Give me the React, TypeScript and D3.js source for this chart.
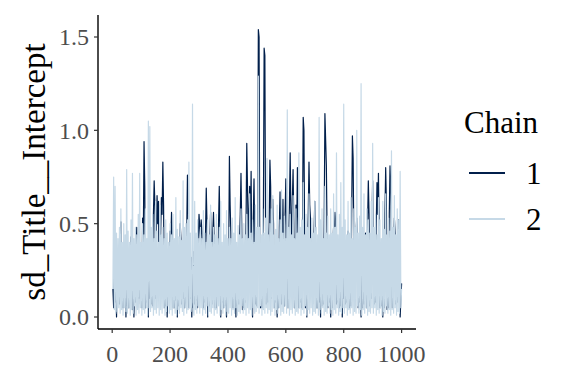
import React from "react";
import * as d3 from "d3";

// Draws, one value every 2.5 iterations (400 per chain)
const chain1: number[] = [
  0.15, 0.05, 0.30, 0.08, 0.25, 0.00, 0.35, 0.10, 0.28, 0.07, 0.40, 0.51, 0.05, 0.30, 0.05, 0.22, 0.09, 0.35, 0.00, 0.28,
  0.06, 0.32, 0.05, 0.25, 0.10, 0.43, 0.38, 0.04, 0.30, 0.00, 0.20, 0.08, 0.35, 0.48, 0.05, 0.28, 0.10, 0.33, 0.07, 0.22,
  0.05, 0.53, 0.40, 0.94, 0.70, 0.05, 0.30, 0.08, 0.25, 0.00, 0.35, 0.10, 0.28, 0.07, 0.40, 0.06, 0.55, 0.73, 0.60, 0.10,
  0.45, 0.65, 0.50, 0.62, 0.12, 0.30, 0.45, 0.64, 0.55, 0.83, 0.60, 0.05, 0.25, 0.06, 0.32, 0.00, 0.28, 0.10, 0.35, 0.46,
  0.40, 0.56, 0.45, 0.05, 0.25, 0.05, 0.30, 0.09, 0.22, 0.00, 0.35, 0.06, 0.28, 0.50, 0.42, 0.07, 0.25, 0.10, 0.30, 0.05,
  0.08, 0.30, 0.45, 0.76, 0.55, 0.05, 0.25, 0.10, 0.32, 0.00, 0.28, 0.05, 0.35, 0.07, 0.22, 0.09, 0.30, 0.05, 0.42, 0.55,
  0.48, 0.40, 0.52, 0.46, 0.30, 0.05, 0.25, 0.08, 0.45, 0.69, 0.50, 0.00, 0.30, 0.06, 0.42, 0.56, 0.38, 0.07, 0.45, 0.56,
  0.40, 0.05, 0.28, 0.05, 0.35, 0.10, 0.50, 0.70, 0.45, 0.00, 0.25, 0.08, 0.30, 0.05, 0.22, 0.06, 0.35, 0.00, 0.28, 0.09,
  0.30, 0.86, 0.60, 0.45, 0.05, 0.25, 0.05, 0.32, 0.08, 0.28, 0.00, 0.35, 0.06, 0.25, 0.07, 0.40, 0.55, 0.77, 0.50, 0.04,
  0.28, 0.05, 0.35, 0.08, 0.50, 0.93, 0.70, 0.40, 0.55, 0.70, 0.45, 0.78, 0.30, 0.00, 0.52, 0.74, 0.40, 0.07, 0.25, 0.06,
  0.40, 1.54, 1.50, 0.30, 0.05, 0.25, 0.05, 0.35, 0.55, 1.44, 1.40, 0.45, 0.07, 0.28, 0.08, 0.35, 0.50, 0.84, 0.70, 0.10,
  0.45, 0.63, 0.50, 0.05, 0.30, 0.08, 0.25, 0.00, 0.35, 0.05, 0.48, 0.67, 0.40, 0.07, 0.45, 0.63, 0.30, 0.06, 0.55, 0.74,
  0.50, 0.30, 0.05, 0.45, 0.60, 0.88, 0.55, 0.40, 0.62, 0.79, 0.50, 0.05, 0.30, 0.60, 0.45, 0.80, 0.52, 0.05, 0.25, 0.08,
  0.30, 0.05, 0.45, 1.07, 1.00, 0.40, 0.05, 0.28, 0.00, 0.35, 0.55, 0.83, 0.60, 0.53, 0.20, 0.40, 0.07, 0.30, 0.45, 0.62,
  0.40, 0.05, 0.28, 0.05, 0.35, 0.08, 0.25, 0.00, 0.32, 0.06, 0.30, 0.07, 0.50, 1.09, 0.95, 0.81, 0.45, 0.05, 0.30, 0.08,
  0.25, 0.00, 0.35, 0.05, 0.40, 0.48, 0.45, 0.56, 0.50, 0.07, 0.28, 0.08, 0.22, 0.05, 0.35, 0.06, 0.30, 0.00, 0.25, 0.10,
  0.30, 0.07, 0.40, 0.08, 0.35, 0.46, 0.40, 0.05, 0.28, 0.06, 0.55, 0.97, 0.85, 0.40, 0.05, 0.30, 0.45, 0.53, 0.40, 0.05,
  0.28, 0.08, 0.35, 0.00, 0.30, 0.05, 0.25, 0.07, 0.40, 0.45, 0.38, 0.05, 0.50, 0.73, 0.55, 0.06, 0.30, 0.10, 0.50, 0.73,
  0.40, 0.07, 0.35, 0.08, 0.50, 0.72, 0.55, 0.77, 0.45, 0.05, 0.30, 0.06, 0.25, 0.00, 0.35, 0.05, 0.55, 0.80, 0.60, 0.04,
  0.30, 0.05, 0.55, 0.81, 0.70, 0.35, 0.05, 0.28, 0.40, 0.53, 0.45, 0.07, 0.30, 0.08, 0.40, 0.52, 0.35, 0.00, 0.10, 0.18,
];

const chain2: number[] = [
  0.15, 0.75, 0.04, 0.70, 0.02, 0.45, 0.03, 0.42, 0.05, 0.48, 0.02, 0.58, 0.04, 0.40, 0.01, 0.50, 0.05, 0.44, 0.03, 0.79,
  0.02, 0.46, 0.05, 0.40, 0.01, 0.52, 0.04, 0.77, 0.02, 0.42, 0.06, 0.48, 0.01, 0.44, 0.04, 0.55, 0.02, 0.77, 0.05, 0.40,
  0.01, 0.50, 0.04, 0.44, 0.02, 0.58, 0.05, 0.42, 0.01, 1.05, 0.05, 1.02, 0.03, 0.48, 0.05, 0.55, 0.01, 0.42, 0.04, 0.62,
  0.02, 0.46, 0.05, 0.40, 0.01, 0.60, 0.04, 0.44, 0.02, 0.48, 0.05, 0.42, 0.01, 0.52, 0.03, 0.45, 0.06, 0.40, 0.02, 0.50,
  0.04, 0.44, 0.01, 0.55, 0.05, 0.42, 0.02, 0.64, 0.01, 0.47, 0.04, 0.43, 0.02, 0.57, 0.05, 0.41, 0.03, 0.73, 0.01, 0.48,
  0.05, 0.50, 0.02, 0.52, 0.04, 0.83, 0.05, 0.45, 0.03, 0.08, 1.14, 0.04, 0.01, 0.62, 0.04, 0.45, 0.02, 0.52, 0.06, 0.42,
  0.02, 0.48, 0.05, 0.42, 0.01, 0.57, 0.04, 0.45, 0.02, 0.40, 0.06, 0.52, 0.01, 0.44, 0.03, 0.60, 0.02, 0.40, 0.05, 0.48,
  0.01, 0.44, 0.04, 0.55, 0.02, 0.42, 0.06, 0.48, 0.01, 0.62, 0.04, 0.40, 0.02, 0.50, 0.05, 0.44, 0.01, 0.57, 0.03, 0.42,
  0.02, 0.48, 0.05, 0.42, 0.01, 0.53, 0.04, 0.45, 0.02, 0.64, 0.05, 0.40, 0.01, 0.49, 0.03, 0.44, 0.02, 0.58, 0.06, 0.42,
  0.02, 0.50, 0.04, 0.44, 0.01, 0.55, 0.05, 0.42, 0.02, 0.66, 0.04, 0.45, 0.01, 0.52, 0.05, 0.40, 0.02, 0.60, 0.03, 0.48,
  0.05, 1.29, 0.02, 0.48, 0.06, 0.44, 0.01, 0.58, 0.04, 0.45, 0.02, 0.53, 0.05, 0.85, 0.02, 0.44, 0.04, 0.50, 0.01, 0.58,
  0.03, 0.65, 0.05, 0.44, 0.01, 0.47, 0.04, 0.60, 0.02, 0.42, 0.05, 0.52, 0.01, 0.68, 0.03, 0.45, 0.02, 0.54, 0.06, 0.42,
  0.02, 1.11, 0.05, 0.48, 0.01, 0.55, 0.04, 0.44, 0.02, 0.65, 0.05, 0.42, 0.01, 0.58, 0.03, 0.45, 0.02, 0.88, 0.05, 0.48,
  0.01, 0.52, 0.04, 0.72, 0.02, 0.44, 0.06, 0.55, 0.01, 0.48, 0.04, 0.66, 0.02, 0.42, 0.05, 0.53, 0.01, 0.45, 0.03, 0.62,
  0.02, 0.48, 0.05, 0.44, 0.01, 1.07, 0.04, 0.52, 0.02, 0.58, 0.05, 0.42, 0.01, 0.70, 0.03, 0.45, 0.02, 0.54, 0.06, 0.44,
  0.02, 0.58, 0.04, 0.45, 0.01, 0.66, 0.04, 0.48, 0.02, 0.88, 0.05, 0.44, 0.01, 0.55, 0.03, 0.72, 0.02, 0.48, 0.05, 1.14,
  0.02, 0.52, 0.05, 0.44, 0.01, 0.62, 0.04, 0.45, 0.02, 0.64, 0.05, 0.42, 0.01, 0.58, 0.03, 0.48, 0.02, 1.00, 0.06, 0.45,
  0.02, 0.54, 0.04, 1.25, 0.01, 0.48, 0.04, 0.66, 0.02, 0.44, 0.05, 0.58, 0.01, 0.52, 0.03, 0.45, 0.02, 0.62, 0.05, 0.93,
  0.02, 0.48, 0.05, 0.55, 0.01, 0.44, 0.04, 0.64, 0.02, 0.52, 0.05, 0.42, 0.01, 0.62, 0.03, 0.47, 0.02, 0.66, 0.06, 0.44,
  0.02, 0.53, 0.04, 0.46, 0.01, 0.89, 0.04, 0.48, 0.02, 0.65, 0.05, 0.44, 0.01, 0.58, 0.03, 0.52, 0.02, 0.78, 0.05, 0.15,
];

const nIter = 1000;
const chainNames = ["1", "2"];
const chainColors = ["#011f4b", "#c6d9e7"];
const xTicks = [0, 200, 400, 600, 800, 1000];
const yTicks = [0.0, 0.5, 1.0, 1.5];
const yTitle = "sd_Title__Intercept";
const legendTitle = "Chain";

const W = 576;
const H = 384;
const panel = { left: 98, right: 416, top: 15, bottom: 329 };
const FONT = "'Liberation Serif', 'Times New Roman', serif";

export default function App() {
  const x = d3.scaleLinear().domain([0, 1000]).range([112.2, 401.6]);
  const y = d3.scaleLinear().domain([0, 1.5]).range([317, 37]);
  const series = [chain1, chain2];

  return (
    <svg
      width={W}
      height={H}
      style={{ position: "absolute", left: 0, top: 0, background: "#fff" }}
      fontFamily={FONT}
    >
      <rect x={0} y={0} width={W} height={H} fill="#fff" />
      {series.map((s, i) => {
        const step = nIter / s.length;
        const line = d3
          .line<number>()
          .x((_, j) => x((j + 1) * step))
          .y((d) => y(d));
        return (
          <path
            key={i}
            d={line(s) || ""}
            fill="none"
            stroke={chainColors[i]}
            strokeWidth={1.2}
            strokeLinejoin="round"
          />
        );
      })}
      {/* axes */}
      <line x1={panel.left} x2={panel.left} y1={panel.top} y2={panel.bottom} stroke="#000" strokeWidth={1.4} />
      <line x1={panel.left} x2={panel.right} y1={panel.bottom} y2={panel.bottom} stroke="#000" strokeWidth={1.4} />
      {yTicks.map((t) => (
        <g key={t}>
          <line x1={panel.left - 4} x2={panel.left} y1={y(t)} y2={y(t)} stroke="#333" strokeWidth={1.2} />
          <text x={panel.left - 9} y={y(t)} dy="0.35em" textAnchor="end" fontSize={24} fill="#4d4d4d">
            {t.toFixed(1)}
          </text>
        </g>
      ))}
      {xTicks.map((t) => (
        <g key={t}>
          <line x1={x(t)} x2={x(t)} y1={panel.bottom} y2={panel.bottom + 4} stroke="#333" strokeWidth={1.2} />
          <text x={x(t)} y={panel.bottom + 33} textAnchor="middle" fontSize={24} fill="#4d4d4d">
            {t}
          </text>
        </g>
      ))}
      <text
        transform={`translate(45, ${(panel.top + panel.bottom) / 2}) rotate(-90)`}
        textAnchor="middle"
        fontSize={33}
        fill="#000"
      >
        {yTitle}
      </text>
      {/* legend */}
      <text x={464} y={133} fontSize={31} fill="#000">
        {legendTitle}
      </text>
      {chainNames.map((n, i) => (
        <g key={n}>
          <line x1={469} x2={505} y1={173 + i * 46} y2={173 + i * 46} stroke={chainColors[i]} strokeWidth={1.8} />
          <text x={526} y={173 + i * 46} dy="0.35em" fontSize={31} fill="#000">
            {n}
          </text>
        </g>
      ))}
    </svg>
  );
}
